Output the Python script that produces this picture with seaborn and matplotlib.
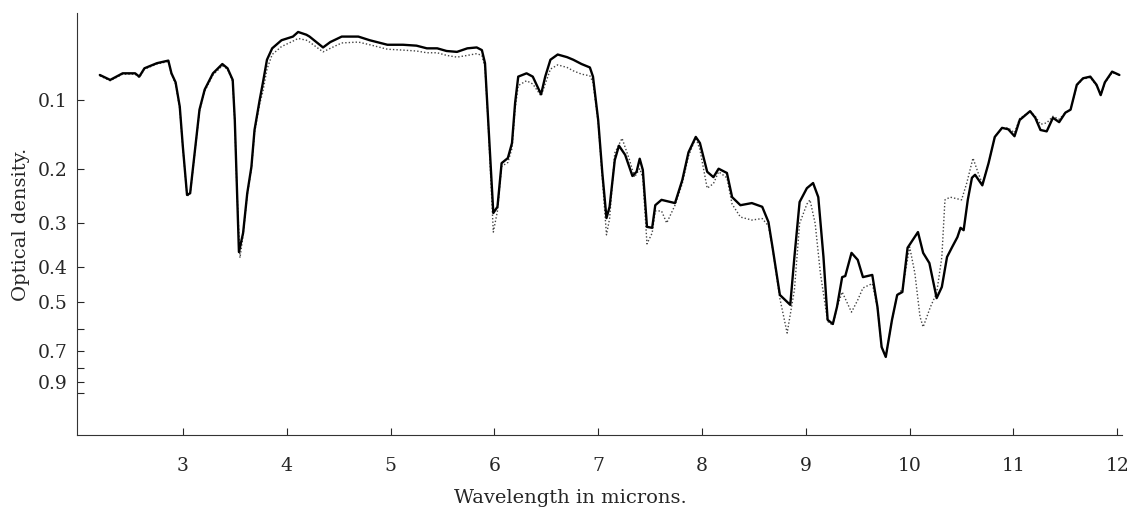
import numpy as np
import pandas as pd
import seaborn as sns
import matplotlib
matplotlib.use("Agg")
import matplotlib.pyplot as plt

# solid curve: wavelength (microns) and optical density
solid_wl = [2.20, 2.30, 2.42, 2.54, 2.58, 2.63, 2.75, 2.86, 2.89, 2.93, 2.97, 3.00, 3.04, 3.07, 3.12,
            3.16, 3.21, 3.29, 3.38, 3.43, 3.48, 3.50, 3.52, 3.54, 3.58, 3.62, 3.66, 3.69, 3.74, 3.77,
            3.81, 3.86, 3.95, 4.06, 4.11, 4.19, 4.22, 4.35, 4.42, 4.53, 4.69, 4.80, 4.97, 5.12, 5.25,
            5.35, 5.45, 5.54, 5.64, 5.74, 5.83, 5.88, 5.91, 5.94, 5.99, 6.03, 6.07, 6.13, 6.17, 6.20,
            6.23, 6.31, 6.37, 6.45, 6.49, 6.54, 6.61, 6.70, 6.76, 6.84, 6.92, 6.95, 7.00, 7.04, 7.08,
            7.11, 7.16, 7.20, 7.26, 7.33, 7.37, 7.40, 7.43, 7.47, 7.52, 7.55, 7.61, 7.74, 7.81, 7.87,
            7.94, 7.98, 8.05, 8.11, 8.16, 8.24, 8.29, 8.37, 8.48, 8.58, 8.64, 8.68, 8.75, 8.85, 8.89,
            8.94, 9.01, 9.07, 9.12, 9.17, 9.21, 9.26, 9.30, 9.35, 9.38, 9.44, 9.50, 9.55, 9.64, 9.69,
            9.73, 9.77, 9.83, 9.88, 9.93, 9.98, 10.08, 10.13, 10.19, 10.26, 10.31, 10.36, 10.41, 10.46,
            10.49, 10.52, 10.56, 10.60, 10.63, 10.70, 10.76, 10.82, 10.89, 10.95, 11.01, 11.06, 11.16,
            11.21, 11.26, 11.32, 11.38, 11.44, 11.50, 11.55, 11.61, 11.67, 11.74, 11.80, 11.84, 11.88,
            11.95, 12.02]
solid_od = [.069, .075, .067, .067, .071, .061, .055, .052, .067, .078, .109, .166, .245, .242, .166,
            .113, .087, .067, .056, .061, .075, .127, .231, .363, .320, .242, .197, .141, .100, .079,
            .051, .038, .029, .025, .020, .023, .025, .037, .031, .025, .025, .029, .034, .034, .035,
            .038, .038, .041, .042, .038, .037, .040, .055, .127, .279, .267, .191, .183, .160, .104,
            .071, .067, .071, .093, .071, .051, .045, .048, .051, .056, .060, .071, .127, .207, .289,
            .267, .186, .164, .178, .212, .205, .184, .202, .307, .309, .264, .254, .260, .219, .174,
            .151, .160, .205, .214, .200, .207, .249, .264, .260, .267, .297, .353, .479, .511, .375,
            .258, .233, .224, .249, .375, .564, .580, .518, .427, .424, .365, .382, .427, .421, .518,
            .681, .733, .564, .479, .470, .353, .318, .365, .390, .489, .455, .375, .351, .329,
            .309, .314, .254, .215, .210, .228, .191, .151, .138, .140, .150, .127, .115,
            .124, .141, .143, .124, .130, .117, .113, .081, .073, .071, .081, .094, .078,
            .065, .069]

# dotted curve
dotted_wl = [2.20, 2.30, 2.42, 2.54, 2.58, 2.63, 2.75, 2.86, 2.89, 2.93, 2.97, 3.00, 3.04, 3.07, 3.12,
             3.16, 3.21, 3.29, 3.38, 3.43, 3.48, 3.50, 3.52, 3.55, 3.58, 3.62, 3.66, 3.69, 3.74, 3.77,
             3.81, 3.86, 3.95, 4.06, 4.11, 4.19, 4.22, 4.35, 4.42, 4.53, 4.69, 4.80, 4.97, 5.12, 5.25,
             5.35, 5.45, 5.54, 5.64, 5.74, 5.83, 5.88, 5.91, 5.94, 5.99, 6.03, 6.07, 6.13, 6.17, 6.20,
             6.23, 6.31, 6.37, 6.45, 6.49, 6.54, 6.61, 6.70, 6.76, 6.84, 6.92, 6.95, 7.00, 7.04, 7.08,
             7.11, 7.16, 7.23, 7.30, 7.35, 7.40, 7.43, 7.47, 7.52, 7.55, 7.61, 7.66, 7.74, 7.81, 7.87,
             7.94, 7.98, 8.05, 8.11, 8.16, 8.24, 8.29, 8.37, 8.48, 8.58, 8.64, 8.68, 8.75, 8.82, 8.89,
             8.94, 9.01, 9.04, 9.09, 9.14, 9.21, 9.26, 9.30, 9.35, 9.44, 9.50, 9.55, 9.64, 9.69,
             9.73, 9.77, 9.83, 9.88, 9.93, 10.00, 10.05, 10.10, 10.13, 10.20, 10.26, 10.31, 10.34, 10.39,
             10.50, 10.55, 10.61, 10.66, 10.70, 10.76, 10.82, 10.89, 10.95, 11.01, 11.06, 11.16,
             11.21, 11.26, 11.32, 11.38, 11.44, 11.50, 11.55, 11.61, 11.67, 11.74, 11.80, 11.84, 11.88,
             11.95, 12.02]
dotted_od = [.070, .076, .068, .068, .072, .062, .056, .053, .068, .080, .112, .168, .247, .244, .168,
             .115, .089, .069, .058, .062, .077, .130, .235, .377, .325, .245, .200, .145, .105, .090,
             .062, .045, .036, .030, .027, .029, .031, .042, .038, .032, .031, .034, .039, .040, .041,
             .043, .043, .046, .048, .046, .044, .046, .060, .130, .318, .275, .196, .190, .168, .112,
             .082, .076, .080, .095, .080, .062, .057, .060, .064, .068, .070, .078, .130, .215, .324,
             .290, .175, .153, .185, .214, .200, .215, .344, .320, .275, .275, .299, .264, .225, .180,
             .152, .170, .233, .225, .205, .215, .262, .287, .293, .290, .305, .355, .490, .617, .464,
             .300, .262, .254, .300, .416, .570, .585, .520, .470, .536, .495, .458, .445, .520,
             .680, .733, .564, .479, .462, .351, .416, .553, .592, .518, .473, .375, .254, .249,
             .254, .224, .183, .207, .225, .191, .151, .138, .138, .145, .125, .115,
             .122, .133, .131, .122, .126, .117, .113, .082, .074, .072, .082, .094, .079,
             .066, .069]

od_ticks = [0.1, 0.2, 0.3, 0.4, 0.5, 0.6, 0.7, 0.8, 0.9, 1.0]
od_labels = ["0.1", "0.2", "0.3", "0.4", "0.5", "", "0.7", "", "0.9", ""]
wl_ticks = [3, 4, 5, 6, 7, 8, 9, 10, 11, 12]

sns.set_style("ticks")
plt.rcParams['font.family'] = ['DejaVu Serif']

# the chart's vertical axis is linear in transmission, labelled in optical density
solid = pd.DataFrame({'wl': solid_wl, 'T': 10 ** (-np.array(solid_od))})
dotted = pd.DataFrame({'wl': dotted_wl, 'T': 10 ** (-np.array(dotted_od))})

fig = plt.figure(figsize=(11.27, 5.09), dpi=100)
ax = fig.add_axes([0.0683, 0.1454, 0.9277, 0.8291])

sns.lineplot(data=dotted, x='wl', y='T', ax=ax, color='#444444', linewidth=1.0,
             linestyle=(0, (1, 1.5)))
sns.lineplot(data=solid, x='wl', y='T', ax=ax, color='black', linewidth=1.7)

ax.set_xlim(1.98, 12.05)
ax.set_ylim(0, 1)
ax.set_xticks(wl_ticks)
ax.set_xticklabels([str(t) for t in wl_ticks])
ax.set_yticks([10 ** (-d) for d in od_ticks])
ax.set_yticklabels(od_labels)
ax.tick_params(axis='x', direction='in', length=5, width=0.8, pad=16, labelsize=13.5)
ax.tick_params(axis='y', direction='in', length=5, width=0.8, pad=7, labelsize=13.5)

sns.despine(ax=ax)
for s in ['left', 'bottom']:
    ax.spines[s].set_linewidth(0.8)
    ax.spines[s].set_color('#333333')

ax.set_xlabel('Wavelength in microns.', fontsize=14)
ax.set_ylabel('Optical density.', fontsize=14)
ax.xaxis.set_label_coords(0.4716, -0.127)
ax.yaxis.set_label_coords(-0.045, 0.5)

fig.savefig('out.png', dpi=100)
